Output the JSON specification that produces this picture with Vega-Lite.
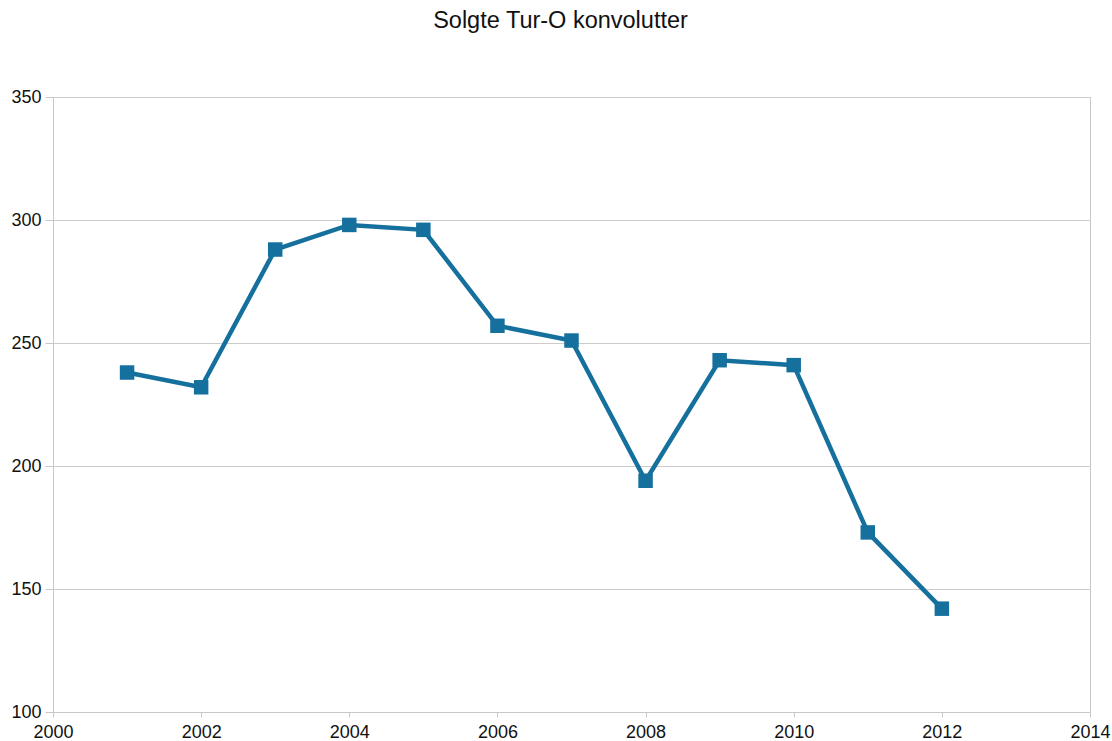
{
  "$schema": "https://vega.github.io/schema/vega-lite/v6.json",
  "autosize": "none",
  "width": 1037,
  "height": 615,
  "padding": {"left": 53, "top": 97, "right": 22, "bottom": 29},
  "background": "white",
  "title": {"text": "Solgte Tur-O konvolutter", "font": "Liberation Sans", "fontSize": 23.5, "fontWeight": "normal", "color": "#111111", "offset": 56, "dx": -11},
  "config": {
    "view": {"stroke": "#c8c8c8", "strokeWidth": 1},
    "axis": {"labelFont": "Liberation Sans", "labelFontSize": 18, "labelColor": "#111111", "gridColor": "#cccccc", "domainColor": "#c8c8c8", "tickColor": "#c8c8c8", "labelFlush": false, "labelOverlap": false}
  },
  "data": {"values": [
    {"year": 2001, "value": 238},
    {"year": 2002, "value": 232},
    {"year": 2003, "value": 288},
    {"year": 2004, "value": 298},
    {"year": 2005, "value": 296},
    {"year": 2006, "value": 257},
    {"year": 2007, "value": 251},
    {"year": 2008, "value": 194},
    {"year": 2009, "value": 243},
    {"year": 2010, "value": 241},
    {"year": 2011, "value": 173},
    {"year": 2012, "value": 142}
  ]},
  "encoding": {
    "x": {"field": "year", "type": "quantitative", "scale": {"domain": [2000, 2014], "nice": false, "zero": false}, "axis": {"title": null, "values": [2000, 2002, 2004, 2006, 2008, 2010, 2012, 2014], "format": "d", "grid": false, "ticks": true, "tickSize": 5, "labelPadding": 6}},
    "y": {"field": "value", "type": "quantitative", "scale": {"domain": [100, 350], "nice": false, "zero": false}, "axis": {"title": null, "values": [100, 150, 200, 250, 300, 350], "grid": true, "tickSize": 8, "labelPadding": 4}}
  },
  "layer": [
    {"mark": {"type": "line", "color": "#15709d", "strokeWidth": 4.5}},
    {"mark": {"type": "square", "color": "#15709d", "opacity": 1, "filled": true, "size": 210}}
  ]
}
